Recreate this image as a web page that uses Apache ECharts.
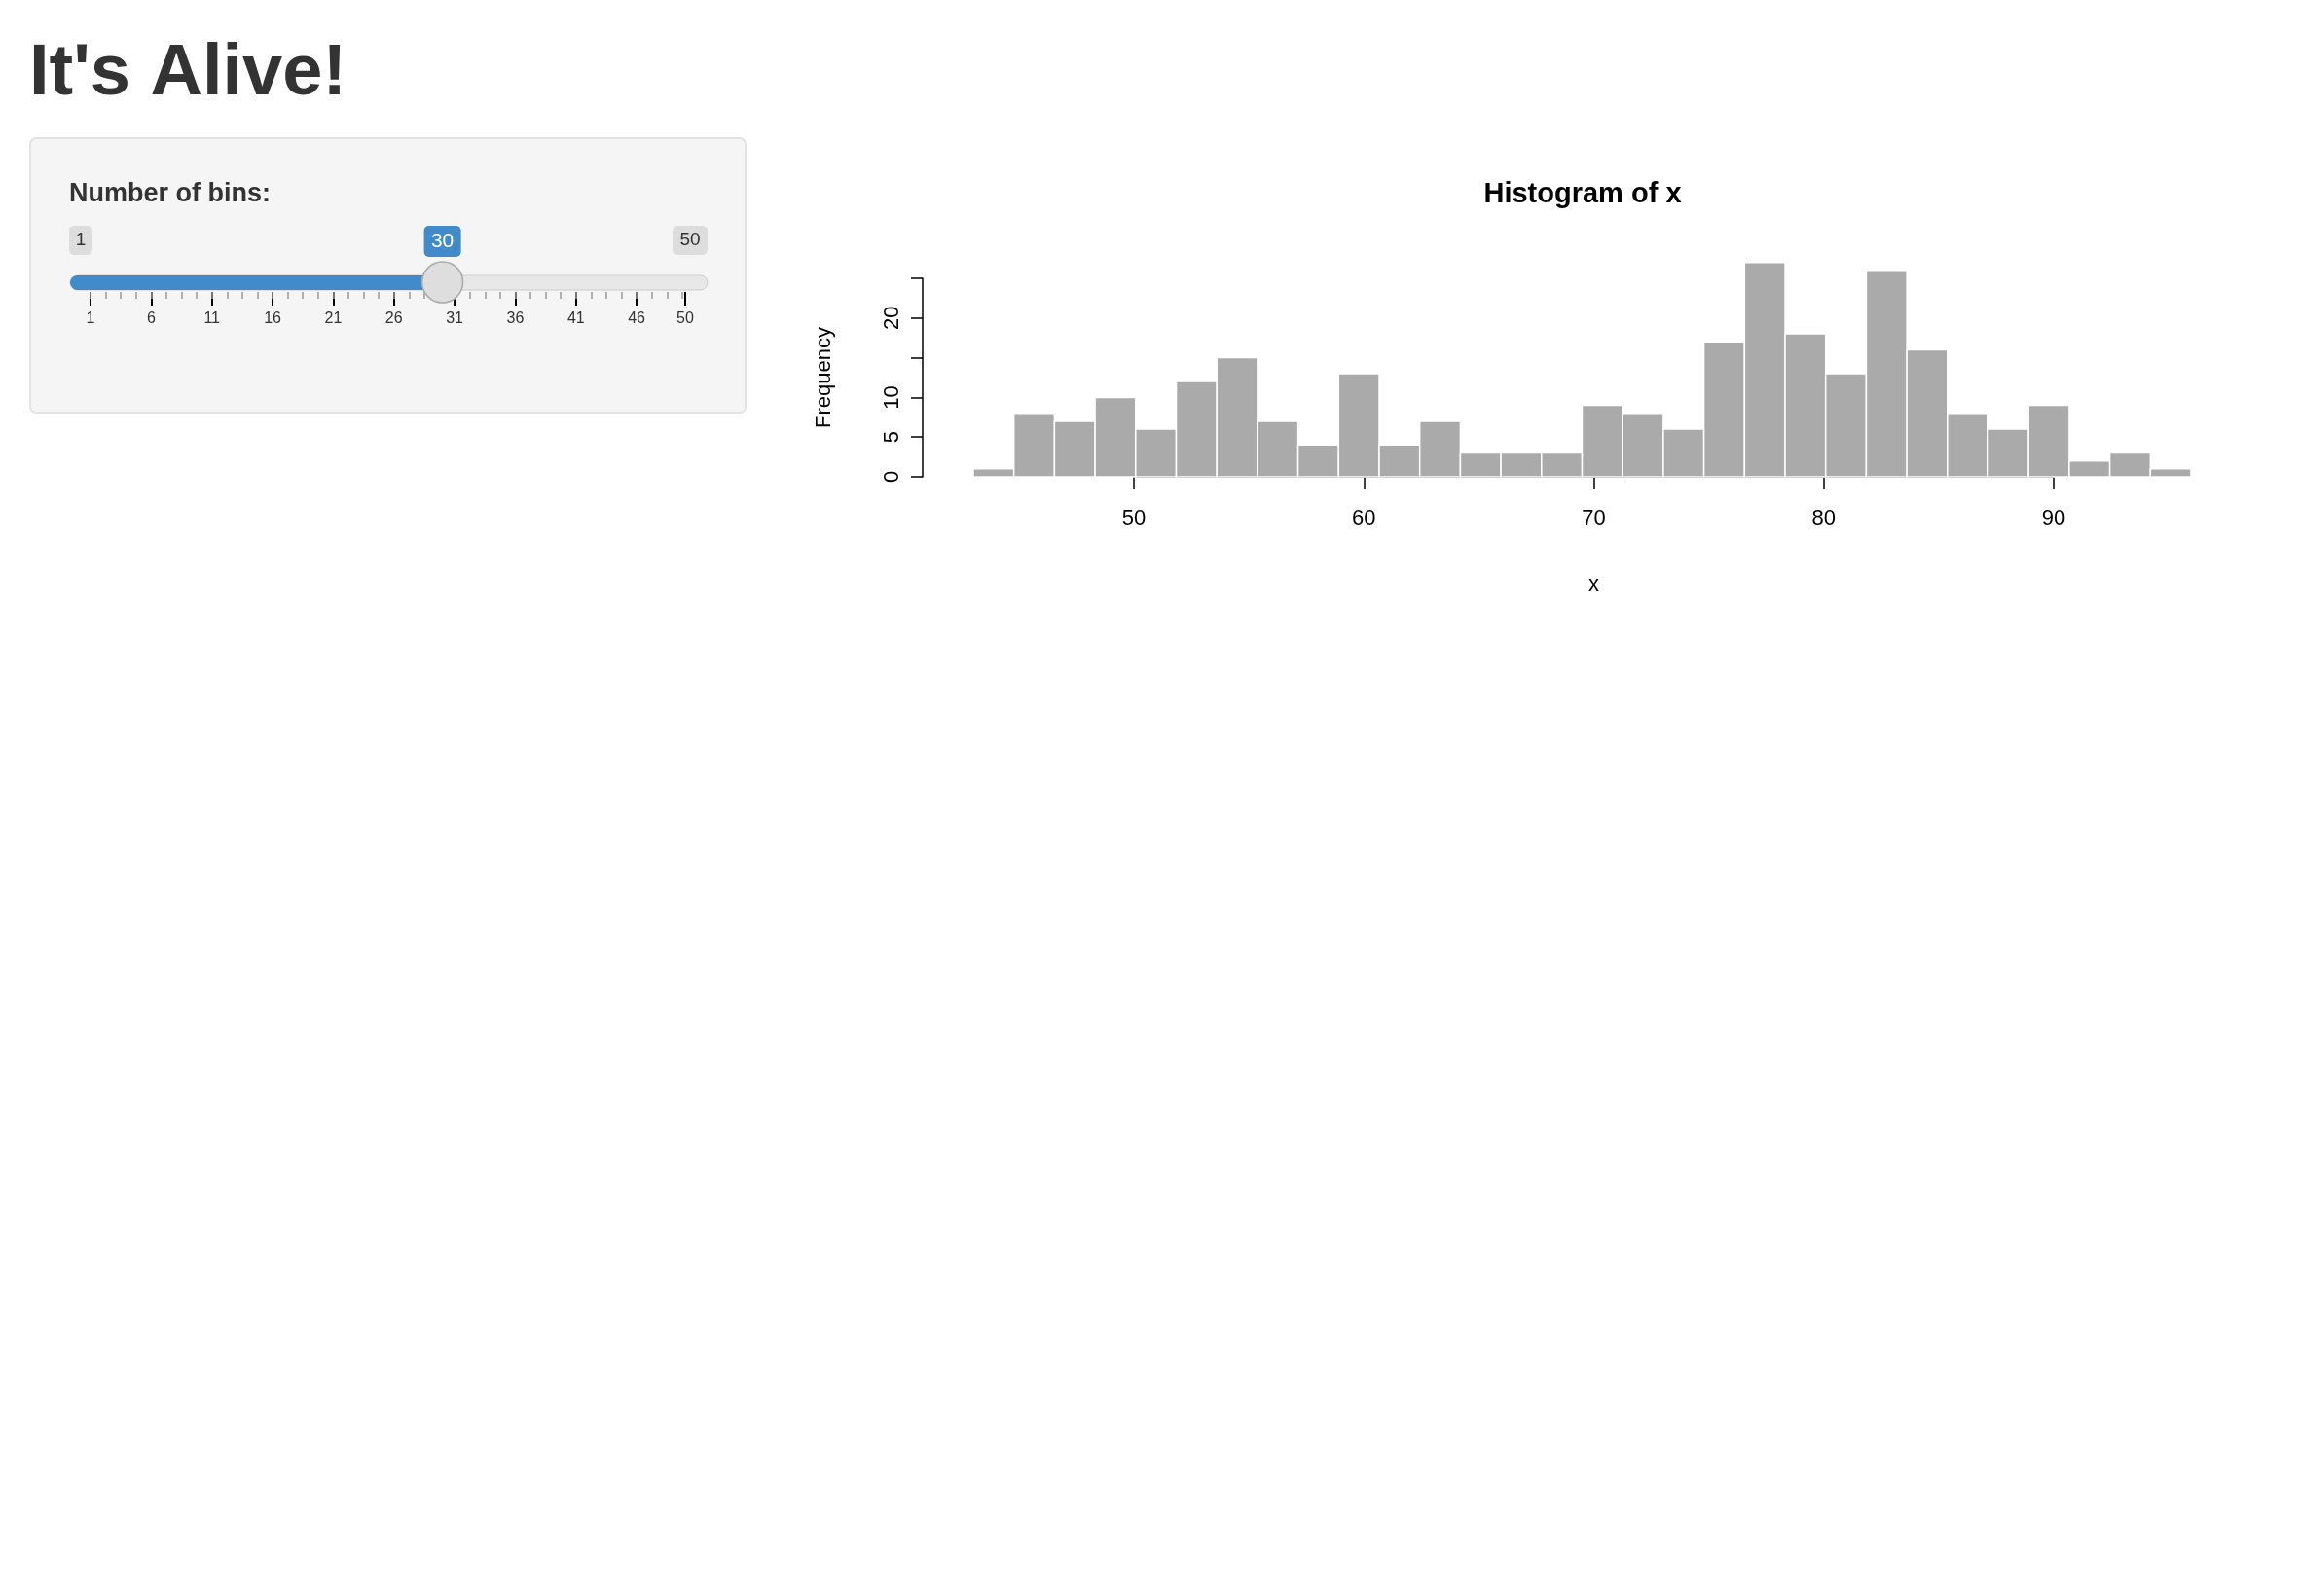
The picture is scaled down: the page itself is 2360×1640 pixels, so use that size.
<!DOCTYPE html>
<html><head><meta charset="utf-8">
<script src="https://cdn.jsdelivr.net/npm/echarts@6/dist/echarts.min.js"></script>
<style>html,body{margin:0;padding:0;background:#fff}#c{width:2360px;height:1640px}</style>
</head><body><div id="c"></div>
<script>
const binStart = 43, binEnd = 96, binCount = 30;
const counts = [1,8,7,10,6,12,15,7,4,13,4,7,3,3,3,9,8,6,17,27,18,13,26,16,8,6,9,2,3,1];
const xTicks = [50,60,70,80,90];
const yTicks = [0,5,10,15,20,25];
const yLabelled = [0,5,10,20];
const sliderMin = 1, sliderMax = 50, sliderValue = 30;
const sliderMajor = [1,6,11,16,21,26,31,36,41,46,50];
const sliderMinor = [];
for (let i = 0; i < 40; i++) sliderMinor.push(1 + i * 1.25);

const w = (binEnd - binStart) / binCount;
const bins = counts.map((c, i) => [binStart + i * w, binStart + (i + 1) * w, c]);
const F = 'Liberation Sans, Arial, sans-serif';
const chart = echarts.init(document.getElementById('c'));
const sx = v => 93 + (v - 1) / 49 * 611;
chart.setOption({
  animation: false,
  grid: [
    {left: 1000, width: 1251, top: 286, height: 204},
    {left: 1165, width: 945, top: 286, height: 204},
    {left: 93, width: 611, top: 290, height: 10}
  ],
  xAxis: [
    {gridIndex: 0, type: 'value', min: binStart, max: binEnd, show: false},
    {gridIndex: 1, type: 'value', min: 50, max: 90, interval: 10, offset: 12,
     axisLine: {show: true, lineStyle: {color: '#000', width: 1.5}},
     axisTick: {show: true, length: 12, lineStyle: {color: '#000', width: 1.5}},
     axisLabel: {color: '#000', fontSize: 22, fontFamily: F, margin: 20,
       customValues: xTicks}, splitLine: {show: false},
     name: 'x', nameLocation: 'middle', nameGap: 88, nameTextStyle: {color: '#000', fontSize: 22, fontFamily: F}},
    {gridIndex: 2, type: 'value', min: sliderMin, max: sliderMax, position: 'bottom',
     axisLine: {show: false}, splitLine: {show: false},
     axisTick: {show: true, inside: false, length: 14, customValues: sliderMajor, lineStyle: {color: '#000', width: 2}},
     axisLabel: {color: '#333', fontSize: 16, fontFamily: F, margin: 20, customValues: sliderMajor}},
    {gridIndex: 2, type: 'value', min: sliderMin, max: sliderMax, position: 'bottom',
     axisLine: {show: false}, splitLine: {show: false}, axisLabel: {show: false},
     axisTick: {show: true, length: 7, customValues: sliderMinor, lineStyle: {color: '#999', width: 1.5}}}
  ],
  yAxis: [
    {gridIndex: 0, type: 'value', min: 0, max: 25, interval: 5, offset: 52,
     axisLine: {show: true, lineStyle: {color: '#000', width: 1.5}},
     axisTick: {show: true, length: 12, lineStyle: {color: '#000', width: 1.5}},
     axisLabel: {color: '#000', fontSize: 22, fontFamily: F, rotate: 90, margin: 20,
       formatter: v => yLabelled.includes(v) ? String(v) : ''},
     splitLine: {show: false},
     name: 'Frequency', nameLocation: 'middle', nameGap: 90, nameRotate: 90,
     nameTextStyle: {color: '#000', fontSize: 22, fontFamily: F}},
    {gridIndex: 1, type: 'value', show: false, min: 0, max: 25},
    {gridIndex: 2, type: 'value', show: false}
  ],
  series: [{
    type: 'custom', xAxisIndex: 0, yAxisIndex: 0, clip: false, data: bins,
    renderItem: (p, api) => {
      const a = api.coord([api.value(0), api.value(2)]);
      const b = api.coord([api.value(1), 0]);
      return {type: 'rect', shape: {x: a[0], y: a[1], width: b[0] - a[0], height: b[1] - a[1]},
        style: {fill: '#aaaaaa', stroke: '#ffffff', lineWidth: 1.5}};
    }
  }],
  graphic: [
    {type: 'text', left: 30, top: 40, style: {text: "It's Alive!", font: 'bold 74px ' + F, fill: '#333'}},
    {type: 'rect', shape: {x: 31, y: 142, width: 735, height: 282, r: 6}, style: {fill: '#f5f5f5', stroke: '#e3e3e3', lineWidth: 2}, z: -10},
    {type: 'text', left: 71, top: 186, style: {text: 'Number of bins:', font: 'bold 27px ' + F, fill: '#333'}},
    {type: 'rect', shape: {x: 72, y: 283, width: 655, height: 15, r: 7.5}, style: {fill: '#e8e8e8', stroke: '#ccc', lineWidth: 1}},
    {type: 'rect', shape: {x: 72, y: 283, width: sx(sliderValue) - 72, height: 15, r: 7.5}, style: {fill: '#428bca'}},
    {type: 'circle', shape: {cx: sx(sliderValue), cy: 290, r: 21}, style: {fill: '#dedede', stroke: '#aaa', lineWidth: 1.5}, z: 10},
    {type: 'rect', shape: {x: sx(sliderValue) - 19, y: 232, width: 38, height: 32, r: 5}, style: {fill: '#428bca'}},
    {type: 'text', x: sx(sliderValue), y: 248, style: {text: String(sliderValue), font: '21px ' + F, fill: '#fff', align: 'center', verticalAlign: 'middle'}},
    {type: 'rect', shape: {x: 71, y: 232, width: 24, height: 30, r: 5}, style: {fill: '#ddd'}},
    {type: 'text', x: 83, y: 247, style: {text: String(sliderMin), font: '19px ' + F, fill: '#333', align: 'center', verticalAlign: 'middle'}},
    {type: 'rect', shape: {x: 691, y: 232, width: 36, height: 30, r: 5}, style: {fill: '#ddd'}},
    {type: 'text', x: 709, y: 247, style: {text: String(sliderMax), font: '19px ' + F, fill: '#333', align: 'center', verticalAlign: 'middle'}},
    {type: 'text', x: 1626, y: 200, style: {text: 'Histogram of x', font: 'bold 29px ' + F, fill: '#000', align: 'center', verticalAlign: 'middle'}}
  ]
});
</script></body></html>
